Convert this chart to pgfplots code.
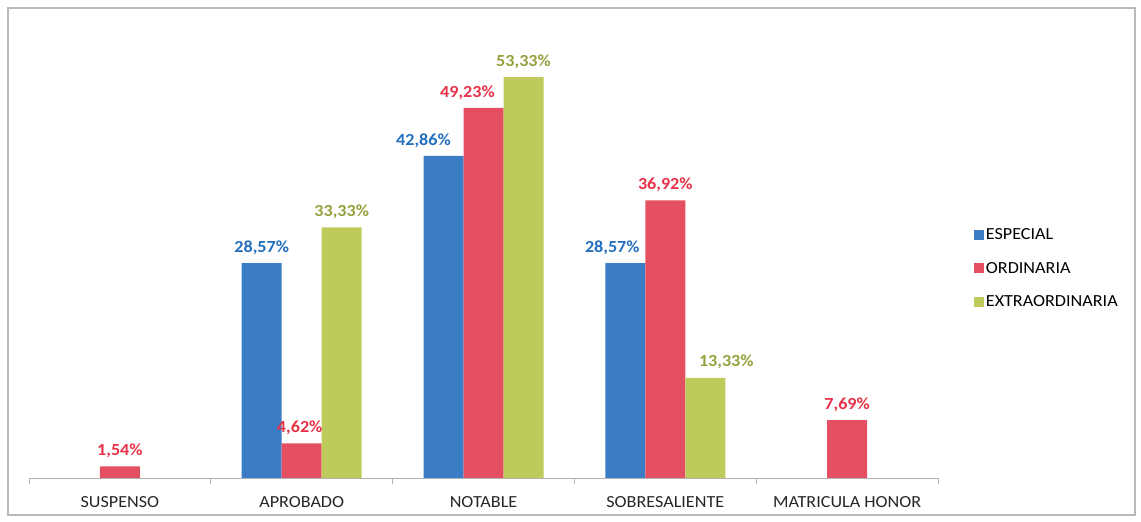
\documentclass[border=0pt]{standalone}
\usepackage{pgfplots}
\pgfplotsset{compat=1.18}
\usepackage{fontspec}
\setmainfont{Carlito}[FakeStretch=1.07]
\definecolor{cblue}{RGB}{58,124,198}
\definecolor{cred}{RGB}{228,80,97}
\definecolor{cgreen}{RGB}{190,203,92}
\definecolor{tblue}{RGB}{35,110,190}
\definecolor{tred}{RGB}{232,50,72}
\definecolor{tgreen}{RGB}{150,160,60}
\begin{document}
\begin{tikzpicture}[x=1bp,y=1bp]
\path[use as bounding box] (0,0) rectangle (1141,522);
\draw[gray!55, line width=1.5bp] (8,7) rectangle (1135,514);
\begin{axis}[
  at={(29bp,44bp)}, anchor=south west,
  scale only axis, width=909bp, height=451bp,
  ybar=0pt, bar width=40bp,
  xmin=-0.5, xmax=4.5, ymin=0, ymax=60,
  axis x line=bottom, axis y line=none,
  axis line style={-, gray!60, line width=0.8bp},
  xtick={0,1,2,3,4},
  xticklabels={SUSPENSO,APROBADO,NOTABLE,SOBRESALIENTE,MATRICULA HONOR},
  major x tick style={draw=none},
  minor xtick={-0.5,0.5,1.5,2.5,3.5,4.5},
  minor tick length=6bp,
  minor x tick style={gray!60, line width=0.8bp},
  tick align=outside,
  xticklabel style={font=\fontsize{17}{17}\selectfont, text=black!85, yshift=-11bp},
  ymajorticks=false,
  /pgf/number format/assume math mode=true,
  visualization depends on={\thisrow{dx} \as \dx},
  nodes near coords={\pgfmathprintnumber[fixed,fixed zerofill,precision=2,use comma,assume math mode=true]{\pgfplotspointmeta}\%},
  every node near coord/.append style={font=\bfseries\fontsize{17}{17}\selectfont, yshift=5bp, xshift=\dx bp},
  legend style={at={(1.036,0.562)}, anchor=north west, draw=none, fill=none,
    font=\fontsize{17}{17}\selectfont, row sep=17bp, legend cell align=left},
  legend image code/.code={\fill[#1,draw=none] (0bp,-5bp) rectangle (10bp,5bp);},
]
\addplot[fill=cblue, draw=none, every node near coord/.append style={text=tblue}]
  table {
x y dx
1 28.57 0
2 42.86 -20
3 28.57 -13
};
\addplot[fill=cred, draw=none, every node near coord/.append style={text=tred}]
  table {
x y dx
0 1.54 0
1 4.62 -2
2 49.23 -16
3 36.92 0
4 7.69 0
};
\addplot[fill=cgreen, draw=none, every node near coord/.append style={text=tgreen}]
  table {
x y dx
1 33.33 0
2 53.33 0
3 13.33 21
};
\legend{ESPECIAL,ORDINARIA,EXTRAORDINARIA}
\end{axis}
\end{tikzpicture}
\end{document}
